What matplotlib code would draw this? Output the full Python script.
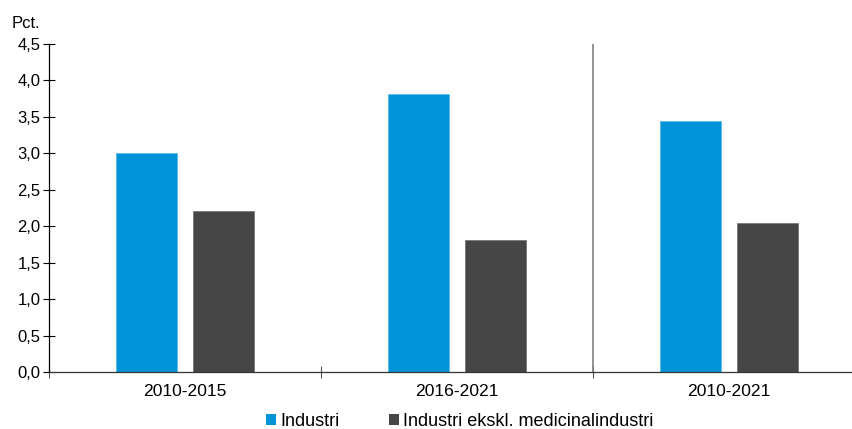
import matplotlib
matplotlib.use("Agg")
import matplotlib.pyplot as plt
import numpy as np
from matplotlib.patches import Patch
from matplotlib.ticker import FuncFormatter

plt.rcParams['font.family'] = ['Liberation Sans', 'DejaVu Sans']

# data
perioder = ["2010-2015", "2016-2021", "2010-2021"]
industri = [3.00, 3.81, 3.44]
ekskl_medicinal = [2.21, 1.81, 2.04]
serie_navne = ["Industri", "Industri ekskl. medicinalindustri"]

blaa = "#0093D7"
graa = "#464646"
fs = 12

fig = plt.figure(figsize=(8.53, 4.29), dpi=100)
# axes runs a bit past the right edge like the original
ax = fig.add_axes([49 / 853, (429 - 372) / 429, 816 / 853, 328 / 429])

x = np.arange(len(perioder))
b = 0.224
off = 0.1415
ax.bar(x - off, industri, width=b, color=blaa, edgecolor="#5BBDE8", linewidth=0.6)
ax.bar(x + off, ekskl_medicinal, width=b, color=graa, edgecolor="#7a7a7a", linewidth=0.6)

ax.set_xlim(-0.5, 2.5)
ax.set_ylim(0, 4.5)
ax.set_yticks(np.arange(0, 4.51, 0.5))
ax.yaxis.set_major_formatter(FuncFormatter(lambda v, p: f"{v:.1f}".replace(".", ",")))

# category labels centred, ticks at boundaries
ax.set_xticks([-0.5, 0.5, 1.5, 2.5])
ax.set_xticklabels([])
ax.set_xticks(x, minor=True)
ax.set_xticklabels(perioder, minor=True)
ax.tick_params(axis="x", which="minor", length=0, pad=9, labelsize=12.6)
ax.tick_params(axis="x", which="major", direction="inout", length=8, width=0.8, color="#555555")
ax.tick_params(axis="y", direction="inout", length=8, width=0.8, labelsize=fs, pad=2)

for s in ["top", "right"]:
    ax.spines[s].set_visible(False)
ax.spines["left"].set_color("black")
ax.spines["left"].set_linewidth(0.9)
ax.spines["bottom"].set_color("#333333")
ax.spines["bottom"].set_linewidth(0.9)

# skillelinje mellem perioderne
ax.axvline(1.5, color="#808080", linewidth=1.2)

fig.text(12 / 853, 1 - 23 / 429, "Pct.", fontsize=fs, va="center", ha="left")

handles = [Patch(facecolor=blaa), Patch(facecolor=graa)]
fig.legend(handles, serie_navne, loc="center", bbox_to_anchor=(460 / 853, 1 - 421 / 429),
           ncol=2, frameon=False, fontsize=13, handlelength=0.55, handleheight=0.55,
           handletextpad=0.22, columnspacing=2.75, borderpad=0)

fig.savefig("out.png", dpi=100)
